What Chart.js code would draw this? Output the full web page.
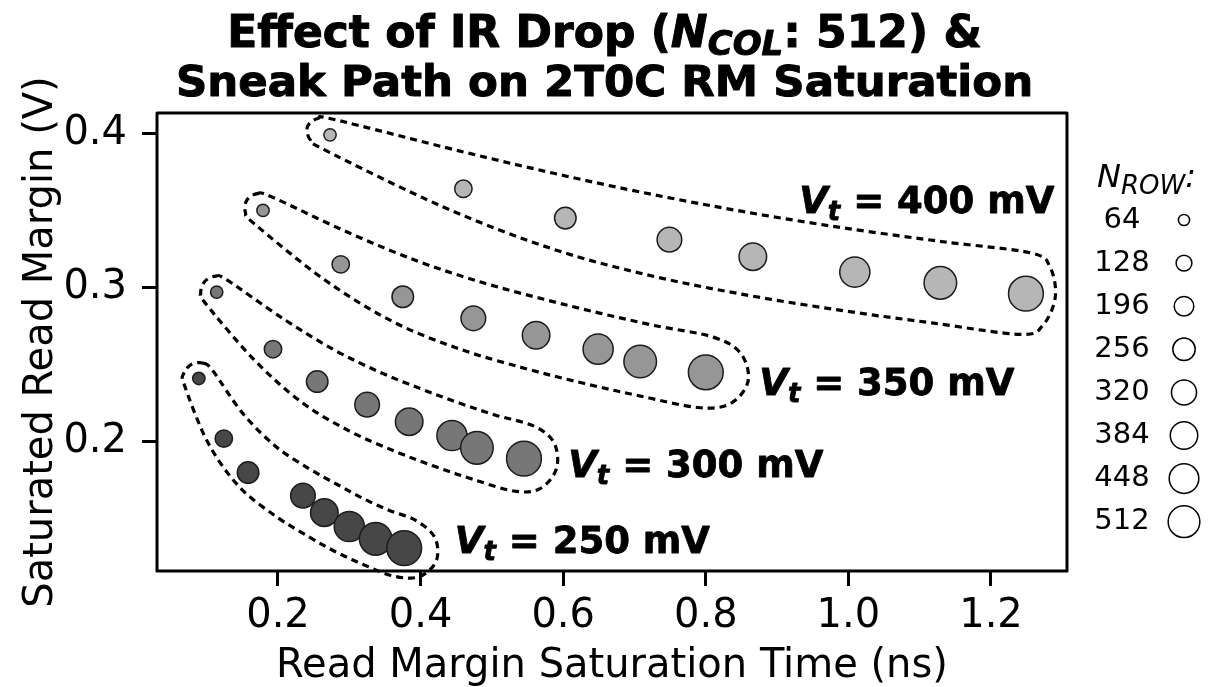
<!DOCTYPE html>
<html>
<head>
<meta charset="utf-8">
<script src="https://cdn.jsdelivr.net/npm/chart.js@4.4.1/dist/chart.umd.min.js"></script>
<style>
  html, body { margin: 0; padding: 0; background: #fff; }
  #wrap { width: 1209px; height: 687px; }
</style>
</head>
<body>
<div id="wrap"><canvas id="rmChart" width="1209" height="687"></canvas></div>
<script>
// array sizes, one bubble per N_ROW in every series
const nRow = [64, 128, 196, 256, 320, 384, 448, 512];

// threshold voltage of each series (mV)
const vtValues = [250, 300, 350, 400];

// read margin saturation time (ns)
const time250 = [0.089, 0.124, 0.158, 0.235, 0.265, 0.300, 0.337, 0.377];
const time300 = [0.114, 0.193, 0.255, 0.325, 0.384, 0.444, 0.479, 0.545];
const time350 = [0.179, 0.288, 0.375, 0.474, 0.562, 0.649, 0.708, 0.800];
const time400 = [0.273, 0.460, 0.603, 0.749, 0.866, 1.009, 1.129, 1.249];

// saturated read margin (V)
const margin250 = [0.241, 0.202, 0.180, 0.165, 0.154, 0.145, 0.137, 0.131];
const margin300 = [0.297, 0.260, 0.239, 0.224, 0.213, 0.204, 0.196, 0.189];
const margin350 = [0.350, 0.315, 0.294, 0.280, 0.269, 0.260, 0.252, 0.245];
const margin400 = [0.399, 0.364, 0.345, 0.331, 0.320, 0.310, 0.303, 0.296];

const xTicks = [0.2, 0.4, 0.6, 0.8, 1.0, 1.2];
const yTicks = [0.2, 0.3, 0.4];

// styling
const FONT = '"DejaVu Sans", Verdana, sans-serif';
const fills = ['#474747', '#777777', '#969696', '#b6b6b6'];
const bubbleR = n => 0.77 * Math.sqrt(n);
const legendR = n => 0.7 * Math.sqrt(n);
// where each "Vt = ..." label starts (data units, baseline)
const labelAt = [[0.448, 0.128], [0.607, 0.177], [0.875, 0.230], [0.931, 0.348]];
// dashed outline: half-width at the first bubble, base half-width, taper, cap stretch
const outlineStart = 16;
const outlineBase = [30, 34, 36, 41];
const outlineTaper = [0, 0.85, 0.95, 1, 1, 1, 1, 1];
const outlineCap = [[1.0, 1.15], [1.0, 1.0], [1.2, 1.2], [1.5, 0.72]];

const times = [time250, time300, time350, time400];
const margins = [margin250, margin300, margin350, margin400];

const datasets = vtValues.map((vt, s) => ({
    label: 'Vt = ' + vt + ' mV',
    data: times[s].map((t, i) => ({ x: t, y: margins[s][i], r: bubbleR(nRow[i]) })),
    backgroundColor: fills[s],
    borderColor: '#1c1c1c',
    borderWidth: 1.5,
    hoverRadius: 0
}));

function closedSpline(ctx, P) {
    const n = P.length;
    ctx.moveTo(P[0].x, P[0].y);
    for (let i = 0; i < n; i++) {
        const p0 = P[(i - 1 + n) % n], p1 = P[i], p2 = P[(i + 1) % n], p3 = P[(i + 2) % n];
        ctx.bezierCurveTo(
            p1.x + (p2.x - p0.x) / 6, p1.y + (p2.y - p0.y) / 6,
            p2.x - (p3.x - p1.x) / 6, p2.y - (p3.y - p1.y) / 6,
            p2.x, p2.y);
    }
    ctx.closePath();
}

function smooth(line) {
    let out = line;
    for (let pass = 0; pass < 2; pass++) {
        out = out.map((p, i) => (i === 0 || i === out.length - 1) ? p : {
            x: (out[i - 1].x + 2 * p.x + out[i + 1].x) / 4,
            y: (out[i - 1].y + 2 * p.y + out[i + 1].y) / 4
        });
    }
    return out;
}

function outline(ctx, pts, pads, cap) {
    const n = pts.length;
    const dirs = pts.map((p, i) => {
        const a = pts[Math.max(0, i - 2)], b = pts[Math.min(n - 1, i + 2)];
        const L = Math.hypot(b.x - a.x, b.y - a.y);
        return { tx: (b.x - a.x) / L, ty: (b.y - a.y) / L };
    });
    const at = (i, a, b) => {
        const d = dirs[i], nx = d.ty, ny = -d.tx;
        return { x: pts[i].x + pads[i] * (a * nx + b * d.tx), y: pts[i].y + pads[i] * (a * ny + b * d.ty) };
    };
    const s = Math.SQRT1_2, last = n - 1;
    const c0 = cap[0], c1 = cap[1];
    const upper = smooth(pts.map((p, i) => at(i, 1, 0)));
    const lower = smooth(pts.map((p, i) => at(i, -1, 0)));
    const loop = [at(0, s, -s * c0), ...upper,
        at(last, s, s * c1), at(last, 0, c1), at(last, -s, s * c1),
        ...lower.reverse(), at(0, -s, -s * c0), at(0, 0, -c0)];
    ctx.beginPath();
    closedSpline(ctx, loop);
    ctx.stroke();
}

// draws runs of text side by side; heavy adds a thin stroke to thicken bold glyphs
function drawPieces(ctx, pieces, x, y, align, heavy) {
    let total = 0;
    pieces.forEach(p => { ctx.font = p.font; p.w = ctx.measureText(p.text).width; total += p.w; });
    let cx = align === 'center' ? x - total / 2 : x;
    pieces.forEach(p => {
        ctx.font = p.font;
        ctx.fillText(p.text, cx, y + (p.dy || 0));
        if (heavy) {
            ctx.lineWidth = heavy;
            ctx.strokeText(p.text, cx, y + (p.dy || 0));
        }
        cx += p.w;
    });
}

const decorPlugin = {
    id: 'decor',
    afterDatasetsDraw(chart) {
        const { ctx, chartArea: a, scales: { x, y } } = chart;
        ctx.save();
        // dashed outlines round each series
        ctx.strokeStyle = '#000';
        ctx.lineWidth = 3.2;
        ctx.setLineDash([7, 5]);
        vtValues.forEach((vt, s) => {
            const pts = times[s].map((t, i) => ({ x: x.getPixelForValue(t), y: y.getPixelForValue(margins[s][i]) }));
            const pads = outlineTaper.map((k, i) => i === 0 ? outlineStart : k * outlineBase[s]);
            outline(ctx, pts, pads, outlineCap[s]);
        });
        ctx.setLineDash([]);

        // Vt labels
        ctx.fillStyle = '#000';
        ctx.strokeStyle = '#000';
        ctx.lineJoin = 'round';
        ctx.textBaseline = 'alphabetic';
        ctx.textAlign = 'left';
        vtValues.forEach((vt, s) => {
            drawPieces(ctx, [
                { text: 'V', font: 'italic bold 37px ' + FONT },
                { text: 't', font: 'italic bold 26px ' + FONT, dy: 7 },
                { text: ' = ' + vt + ' mV', font: 'bold 37px ' + FONT }
            ], x.getPixelForValue(labelAt[s][0]), y.getPixelForValue(labelAt[s][1]), 'left', 0.8);
        });

        // frame
        ctx.lineWidth = 3;
        ctx.strokeRect(a.left, a.top, a.right - a.left, a.bottom - a.top);

        // title
        const W = chart.width;
        drawPieces(ctx, [
            { text: 'Effect of IR Drop (', font: 'bold 44px ' + FONT },
            { text: 'N', font: 'italic bold 44px ' + FONT },
            { text: 'COL', font: 'italic bold 34px ' + FONT, dy: 8 },
            { text: ': 512) &', font: 'bold 44px ' + FONT }
        ], W / 2, 47, 'center', 1);
        drawPieces(ctx, [{ text: 'Sneak Path on 2T0C RM Saturation', font: 'bold 43.5px ' + FONT }], W / 2, 96, 'center', 1);

        // size legend
        drawPieces(ctx, [
            { text: 'N', font: 'italic 32px ' + FONT },
            { text: 'ROW', font: 'italic 26px ' + FONT, dy: 7 },
            { text: ':', font: 'italic 32px ' + FONT }
        ], a.right + 30, 187, 'left');
        ctx.textAlign = 'center';
        ctx.textBaseline = 'middle';
        ctx.font = '29px ' + FONT;
        ctx.lineWidth = 1.5;
        nRow.forEach((n, i) => {
            const cy = 220 + i * 43.1;
            ctx.fillStyle = '#000';
            ctx.fillText(String(n), a.right + 55, cy);
            ctx.beginPath();
            ctx.arc(a.right + 117, cy, legendR(n), 0, Math.PI * 2);
            ctx.fillStyle = '#fff';
            ctx.fill();
            ctx.stroke();
        });
        ctx.restore();
    }
};

new Chart(document.getElementById('rmChart'), {
    type: 'bubble',
    data: { datasets },
    options: {
        responsive: false,
        animation: false,
        events: [],
        layout: { padding: { top: 113, right: 142, left: 0, bottom: 0 } },
        plugins: { legend: { display: false }, tooltip: { enabled: false } },
        scales: {
            x: {
                type: 'linear',
                min: 0.0303,
                max: 1.3066,
                afterBuildTicks: s => { s.ticks = xTicks.map(v => ({ value: v })); },
                afterFit: s => { s.height = 116; },
                border: { display: false },
                grid: { drawOnChartArea: false, drawTicks: true, tickLength: 15, tickWidth: 3, tickColor: '#000' },
                ticks: {
                    color: '#000', padding: 11, autoSkip: false, maxRotation: 0,
                    font: { family: FONT, size: 40, lineHeight: 1 },
                    callback: v => v.toFixed(1)
                },
                title: {
                    display: true, text: 'Read Margin Saturation Time (ns)', color: '#000',
                    font: { family: FONT, size: 40, lineHeight: 1 }, padding: { top: 0, bottom: 0 }
                }
            },
            y: {
                type: 'linear',
                min: 0.11615,
                max: 0.41316,
                afterBuildTicks: s => { s.ticks = yTicks.map(v => ({ value: v })); },
                afterFit: s => { s.width = 157; },
                border: { display: false },
                grid: { drawOnChartArea: false, drawTicks: true, tickLength: 15, tickWidth: 3, tickColor: '#000' },
                ticks: {
                    color: '#000', padding: 15, autoSkip: false,
                    font: { family: FONT, size: 40, lineHeight: 1 },
                    callback: v => v.toFixed(1)
                },
                title: {
                    display: true, text: 'Saturated Read Margin (V)', color: '#000',
                    font: { family: FONT, size: 40, lineHeight: 1 }, padding: { top: 22, bottom: 0 }
                }
            }
        }
    },
    plugins: [decorPlugin]
});
</script>
</body>
</html>
